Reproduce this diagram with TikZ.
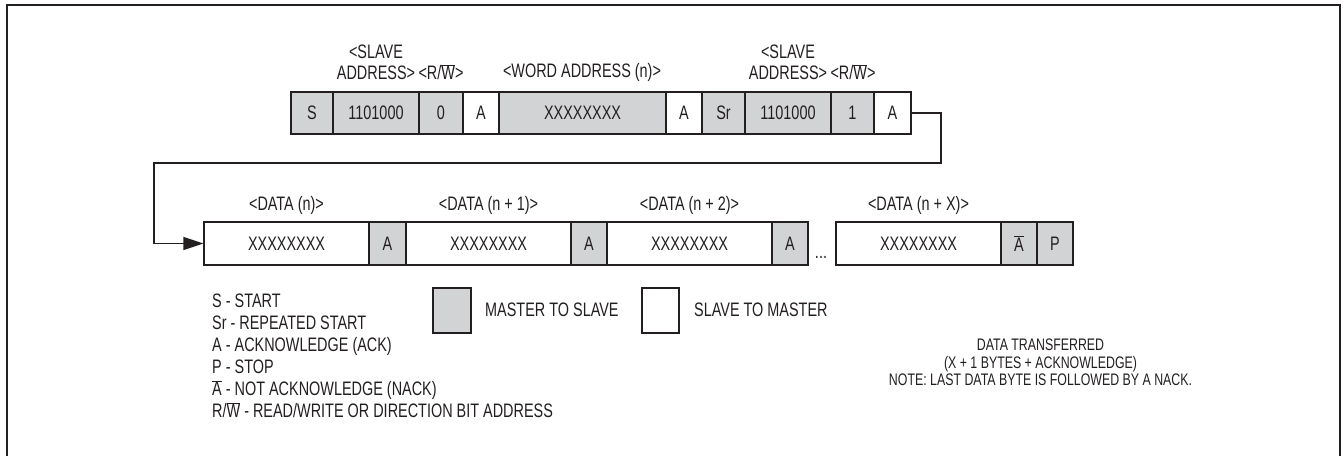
\documentclass[tikz,border=0pt]{standalone}
\usepackage{fontspec}
\setmainfont{Liberation Sans}[FakeStretch=0.74]
\usetikzlibrary{arrows.meta}
\definecolor{ink}{RGB}{35,31,32}
\definecolor{boxgray}{RGB}{210,211,213}
\newcommand\ovl[1]{$\overline{\hbox{#1}}$}
\tikzset{
  txt/.style={text=ink, font=\fontsize{19.5}{21}\selectfont, inner sep=0pt},
  cellbase/.style={txt, draw=ink, line width=1.3pt, minimum height=42pt},
  gcell/.style={cellbase, fill=boxgray},
  wcell/.style={cellbase, fill=white},
  frameline/.style={draw=ink, line width=2.6pt},
  conn/.style={draw=ink, line width=1.3pt},
}
\begin{document}
\begin{tikzpicture}[x=1pt,y=-1pt]
\useasboundingbox (0,0) rectangle (1343,455);
\draw[frameline] (7,470) -- (7,5) -- (1340,5) -- (1340,470);

% top labels
\node[txt, align=center] (l1) at (376,62) {<SLAVE\\ADDRESS>};
\node[txt] (l2) at (441,72) {<R/\ovl{W}>};
\node[txt] (l3) at (582,72) {<WORD ADDRESS (n)>};
\node[txt, align=center] (l4) at (788,62) {<SLAVE\\ADDRESS>};
\node[txt] (l5) at (853,72) {<R/\ovl{W}>};

% top row
\node[gcell, minimum width=42pt] (s) at (312,113) {S};
\node[gcell, minimum width=86pt] (ad1) at (376,113) {1101000};
\node[gcell, minimum width=44pt] (rw1) at (441,113) {0};
\node[wcell, minimum width=36pt] (a1) at (481,113) {A};
\node[gcell, minimum width=167pt] (wa) at (582.5,113) {XXXXXXXX};
\node[wcell, minimum width=36pt] (a2) at (684,113) {A};
\node[gcell, minimum width=43pt] (sr) at (723.5,113) {Sr};
\node[gcell, minimum width=86pt] (ad2) at (788,113) {1101000};
\node[gcell, minimum width=43pt] (rw2) at (852.5,113) {1};
\node[wcell, minimum width=37pt] (a3) at (892.5,113) {A};

% bottom labels
\node[txt] (dl1) at (286.5,205) {<DATA (n)>};
\node[txt] (dl2) at (488.5,205) {<DATA (n + 1)>};
\node[txt] (dl3) at (689.5,205) {<DATA (n + 2)>};
\node[txt] (dl4) at (918.5,205) {<DATA (n + X)>};

% bottom row
\node[wcell, minimum width=165pt, minimum height=43pt] (d1) at (286.5,243.5) {XXXXXXXX};
\node[gcell, minimum width=37pt, minimum height=43pt] (b1) at (387.5,243.5) {A};
\node[wcell, minimum width=165pt, minimum height=43pt] (d2) at (488.5,243.5) {XXXXXXXX};
\node[gcell, minimum width=36pt, minimum height=43pt] (b2) at (589,243.5) {A};
\node[wcell, minimum width=165pt, minimum height=43pt] (d3) at (689.5,243.5) {XXXXXXXX};
\node[gcell, minimum width=36pt, minimum height=43pt] (b3) at (790,243.5) {A};
\node[txt, anchor=base] (dots) at (821,258) {...};
\node[wcell, minimum width=165pt, minimum height=43pt] (d4) at (918.5,243.5) {XXXXXXXX};
\node[gcell, minimum width=36pt, minimum height=43pt] (nb) at (1019,243.5) {\ovl{A}};
\node[gcell, minimum width=36pt, minimum height=43pt] (p) at (1055,243.5) {P};

% connector
\coordinate (t1) at (941,163);
\coordinate (t2) at (154,163);
\draw[conn, -{Triangle[length=20pt,width=13pt]}] (a3.east) -| (t1) -- (t2) |- (d1.west);

% legend
\node[txt, anchor=north west, align=left, font=\fontsize{19.5}{22}\selectfont] (leg) at (212,294) {S - START\\Sr - REPEATED START\\A - ACKNOWLEDGE (ACK)\\P - STOP\\\ovl{A} - NOT ACKNOWLEDGE (NACK)\\R/\ovl{W} - READ/WRITE OR DIRECTION BIT ADDRESS};
\node[gcell, minimum width=38pt, minimum height=45pt] (kg) at (452,310.5) {};
\node[txt, anchor=west] (kgt) at (485,310) {MASTER TO SLAVE};
\node[wcell, minimum width=37pt, minimum height=45pt] (kw) at (660.5,310.5) {};
\node[txt, anchor=west] (kwt) at (694,310) {SLAVE TO MASTER};

\node[txt, align=center, font=\fontsize{16.7}{17.5}\selectfont] (note) at (1040.5,362.5) {DATA TRANSFERRED\\(X + 1 BYTES + ACKNOWLEDGE)\\NOTE: LAST DATA BYTE IS FOLLOWED BY A NACK.};
\end{tikzpicture}
\end{document}
